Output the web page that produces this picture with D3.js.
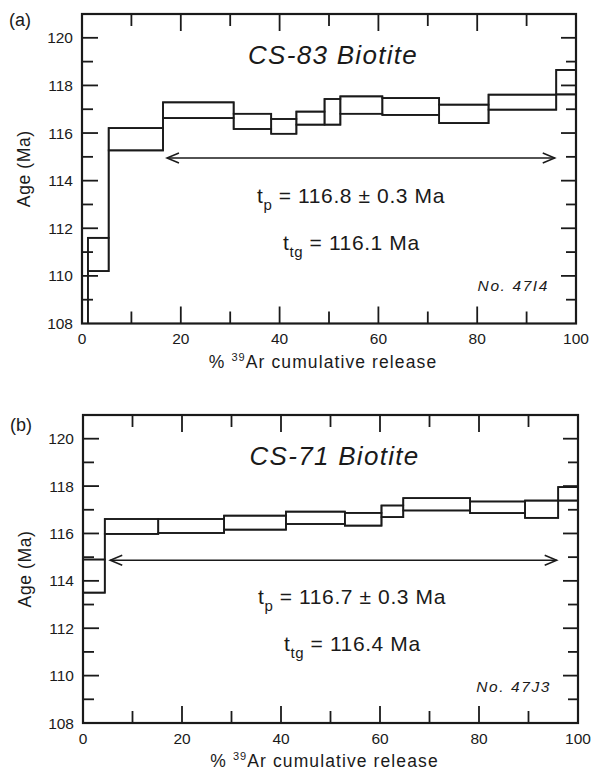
<!DOCTYPE html>
<html><head><meta charset="utf-8">
<script src="https://cdn.jsdelivr.net/npm/d3@7"></script>
<style>
body{margin:0;background:#fff}
text{font-family:"Liberation Sans",Arial,Helvetica,sans-serif;fill:#1a1a1a}
</style>
</head><body>
<svg id="c" width="592" height="775"></svg>
<script>
// ---- data ----
const xTickLabels = [0, 20, 40, 60, 80, 100];
const yTickLabels = [108, 110, 112, 114, 116, 118, 120];
const xDomain = [0, 100];
const yDomain = [108, 121];

// Panel (a) CS-83 Biotite: cumulative %39Ar step boundaries and age bounds (Ma)
const cumA = [0, 1.2, 5.4, 16.4, 30.7, 38.3, 43.4, 49.1, 52.3, 60.8, 72.3, 82.3, 96.0, 100];
const loA  = [103.0, 110.2, 115.27, 116.63, 116.17, 115.97, 116.35, 116.35, 116.81, 116.76, 116.42, 116.98, 117.62];
const hiA  = [107.0, 111.6, 116.21, 117.29, 116.81, 116.59, 116.90, 117.43, 117.54, 117.47, 117.19, 117.61, 118.65];
const plateauA = [17.2, 95.7, 114.95];

// Panel (b) CS-71 Biotite
const cumB = [0, 4.4, 15.2, 28.5, 41.0, 52.9, 60.3, 64.7, 78.2, 89.3, 96.0, 100];
const loB  = [113.5, 115.98, 116.02, 116.16, 116.40, 116.33, 116.69, 116.97, 116.86, 116.66, 117.39];
const hiB  = [114.9, 116.61, 116.61, 116.75, 116.92, 116.87, 117.18, 117.49, 117.35, 117.39, 117.96];
const plateauB = [5.5, 95.7, 114.87];

const panels = [
  {id:"a", tag:"(a)", title:"CS-83 Biotite", tp:"116.8 ± 0.3 Ma", ttg:"116.1 Ma", no:"No. 47I4",
   cum:cumA, lo:loA, hi:hiA, plateau:plateauA,
   left:82, top:14, width:494, height:309.5},
  {id:"b", tag:"(b)", title:"CS-71 Biotite", tp:"116.7 ± 0.3 Ma", ttg:"116.4 Ma", no:"No. 47J3",
   cum:cumB, lo:loB, hi:hiB, plateau:plateauB,
   left:83, top:415, width:495, height:308}
];

const ink = "#1a1a1a";
const svg = d3.select("#c");

panels.forEach(p => {
  const g = svg.append("g").attr("transform", `translate(${p.left},${p.top})`);
  const x = d3.scaleLinear().domain(xDomain).range([0, p.width]);
  const y = d3.scaleLinear().domain(yDomain).range([p.height, 0]);
  const W = p.width, H = p.height;

  g.append("clipPath").attr("id", "clip" + p.id)
    .append("rect").attr("width", W).attr("height", H);

  // ticks (inward, all four sides)
  const yMinor = d3.range(109, 121, 1);
  const xMinor = d3.range(10, 100, 10);
  const tk = g.append("g").attr("stroke", ink).attr("stroke-width", 1.8);
  yMinor.forEach(v => {
    const major = v % 2 === 0;
    tk.append("line").attr("x1", 0).attr("x2", major ? 16 : 11).attr("y1", y(v)).attr("y2", y(v));
    tk.append("line").attr("x1", W).attr("x2", W - (major ? 15 : 10)).attr("y1", y(v)).attr("y2", y(v));
  });
  xMinor.forEach(v => {
    const major = v % 20 === 0;
    tk.append("line").attr("x1", x(v)).attr("x2", x(v)).attr("y1", H).attr("y2", H - (major ? 17 : 12));
    tk.append("line").attr("x1", x(v)).attr("x2", x(v)).attr("y1", 0).attr("y2", major ? 17 : 12);
  });

  // frame
  g.append("rect").attr("width", W).attr("height", H)
    .attr("fill", "none").attr("stroke", ink).attr("stroke-width", 2.2);

  // tick labels
  g.append("g").selectAll("text").data(xTickLabels).join("text")
    .attr("x", d => x(d)).attr("y", H + 20.5).attr("text-anchor", "middle")
    .attr("font-size", 15.5).text(d => d);
  g.append("g").selectAll("text").data(yTickLabels).join("text")
    .attr("x", -9).attr("y", d => y(d) + 5.5).attr("text-anchor", "end")
    .attr("font-size", 15.5).text(d => d);

  // axis titles
  const xt = g.append("text").attr("x", W / 2 - 6).attr("y", H + 44)
    .attr("text-anchor", "middle").attr("font-size", 17.5).attr("letter-spacing", 1.1);
  xt.append("tspan").text("% ");
  xt.append("tspan").attr("font-size", 11).attr("dy", -7).text("39");
  xt.append("tspan").attr("dy", 7).text("Ar cumulative release");

  g.append("text").attr("transform", `translate(${-52},${H / 2}) rotate(-90)`)
    .attr("text-anchor", "middle").attr("font-size", 17.5).attr("letter-spacing", 0.6)
    .text("Age (Ma)");

  // panel tag
  svg.append("text").attr("x", p.left - 73).attr("y", p.top + (p.id === "a" ? 12 : 16))
    .attr("font-size", 18).text(p.tag);

  // data: step spectrum
  const dg = g.append("g").attr("clip-path", `url(#clip${p.id})`)
    .attr("fill", "none").attr("stroke", ink).attr("stroke-width", 1.7);
  const steps = p.lo.map((lo, i) => ({x0: p.cum[i], x1: p.cum[i + 1], lo, hi: p.hi[i]}));
  dg.selectAll("rect").data(steps).join("rect")
    .attr("x", d => x(d.x0)).attr("width", d => x(d.x1) - x(d.x0))
    .attr("y", d => y(d.hi)).attr("height", d => y(d.lo) - y(d.hi));
  const stepLine = key => {
    const pts = [];
    steps.forEach(d => { pts.push([x(d.x0), y(d[key])]); pts.push([x(d.x1), y(d[key])]); });
    return d3.line()(pts);
  };
  dg.append("path").attr("d", stepLine("hi"));
  dg.append("path").attr("d", stepLine("lo"));

  // plateau arrow
  const [pa, pb, pl] = p.plateau;
  const ag = g.append("g").attr("fill", "none").attr("stroke", ink).attr("stroke-width", 1.5);
  const ay = y(pl);
  ag.append("line").attr("x1", x(pa)).attr("x2", x(pb)).attr("y1", ay).attr("y2", ay);
  ag.append("path").attr("d", `M${x(pa) + 12},${ay - 5}L${x(pa)},${ay}L${x(pa) + 12},${ay + 5}`);
  ag.append("path").attr("d", `M${x(pb) - 12},${ay - 5}L${x(pb)},${ay}L${x(pb) - 12},${ay + 5}`);

  // title
  g.append("text").attr("x", W / 2 + 4).attr("y", 49.5).attr("text-anchor", "middle")
    .attr("font-size", 26).attr("font-style", "italic").attr("letter-spacing", 1.3)
    .text(p.title);

  // plateau / total gas ages
  const t1 = g.append("text").attr("x", 175).attr("y", 188.5).attr("font-size", 21).attr("letter-spacing", 0.6);
  t1.append("tspan").text("t");
  t1.append("tspan").attr("font-size", 15).attr("dy", 7).text("p");
  t1.append("tspan").attr("dy", -7).text(" = " + p.tp);
  const t2 = g.append("text").attr("x", 201).attr("y", 236).attr("font-size", 21).attr("letter-spacing", 0.6);
  t2.append("tspan").text("t");
  t2.append("tspan").attr("font-size", 15).attr("dy", 7).text("tg");
  t2.append("tspan").attr("dy", -7).text(" = " + p.ttg);

  // sample number
  g.append("text").attr("x", W - 27).attr("y", 277).attr("text-anchor", "end")
    .attr("font-size", 15.5).attr("font-style", "italic").attr("letter-spacing", 1.6)
    .text(p.no);
});
</script>
</body></html>
